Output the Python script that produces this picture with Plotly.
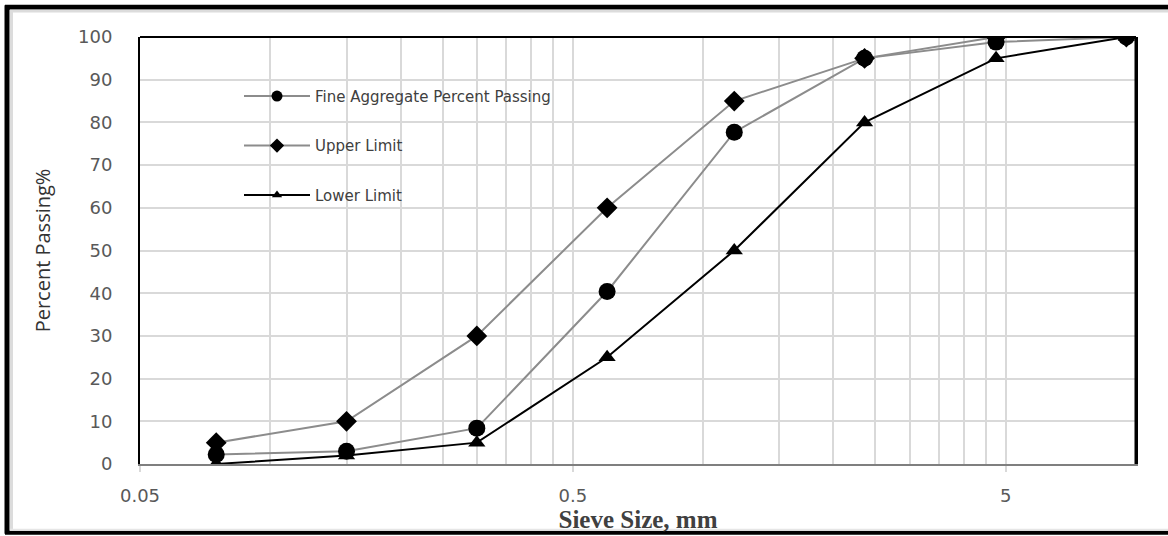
import math
import plotly.graph_objects as go

# ---- data ----
sieve_mm = [0.075, 0.15, 0.3, 0.6, 1.18, 2.36, 4.75, 9.5]
fine_passing = [2.2, 3.0, 8.4, 40.4, 77.7, 95.0, 98.8, 100.0]
upper_limit = [5, 10, 30, 60, 85, 95, 100, 100]
lower_limit = [0, 2, 5, 25, 50, 80, 95, 100]
x_tick_vals = [0.05, 0.5, 5]
x_tick_text = ["0.05", "0.5", "5"]
series_names = ["Fine Aggregate Percent Passing", "Upper Limit", "Lower Limit"]

# minor grid positions (Excel-style log minor grid)
minor_vals = [round(0.05 * k, 3) for k in range(2, 10)] + [round(0.5 * k, 3) for k in range(2, 10)] + [10]

W, H = 1168, 536
L, R, T, B = 140, 1136, 37, 466


def px(x):
    return (x - L) / (R - L)


def py(y):
    return (B - y) / (B - T)


styles = [
    dict(line=dict(color="#8c8c8c", width=2), symbol="circle", size=17, lsize=11),
    dict(line=dict(color="#8c8c8c", width=2), symbol="diamond", size=16, lsize=11),
    dict(line=dict(color="black", width=2), symbol="triangle-up", size=15, lsize=9),
]
series_values = [fine_passing, upper_limit, lower_limit]

fig = go.Figure()
for name, vals, st, grp in zip(series_names, series_values, styles, ["a", "b", "c"]):
    fig.add_trace(go.Scatter(
        x=sieve_mm, y=vals, name=name, mode="lines+markers",
        line=st["line"], marker=dict(symbol=st["symbol"], size=st["size"], color="black"),
        showlegend=False, legendgroup=grp))
for name, st, grp in zip(series_names, styles, ["a", "b", "c"]):
    # legend entry only (smaller legend symbol, like the reference)
    fig.add_trace(go.Scatter(
        x=[None], y=[None], name=name, mode="lines+markers",
        line=st["line"], marker=dict(symbol=st["symbol"], size=st["lsize"], color="black"),
        showlegend=True, legendgroup=grp))

grid = "#d9d9d9"
fig.update_layout(
    width=W, height=H,
    margin=dict(l=L, r=W - R, t=T, b=H - B),
    paper_bgcolor="white", plot_bgcolor="white",
    showlegend=True,
    legend=dict(
        x=px(239), y=py(80), xanchor="left", yanchor="top",
        bgcolor="rgba(0,0,0,0)", borderwidth=0,
        font=dict(family="DejaVu Sans", size=15, color="#404040"),
        tracegroupgap=27, itemwidth=66,
    ),
    xaxis=dict(
        type="log", range=[math.log10(0.05), math.log10(10)],
        tickmode="array", tickvals=x_tick_vals, ticktext=x_tick_text,
        showgrid=True, gridcolor=grid, gridwidth=2,
        ticks="outside", ticklen=6, tickcolor=grid, tickwidth=2,
        minor=dict(tickmode="array", tickvals=minor_vals, showgrid=True,
                   gridcolor=grid, gridwidth=2, ticks=""),
        showline=True, linecolor="#7f7f7f", linewidth=2,
        tickfont=dict(family="DejaVu Sans", size=18, color="#595959"),
        ticklabelstandoff=8,
        title=dict(text="<b>Sieve Size, mm</b>",
                   font=dict(family="Liberation Serif", size=25, color="#404040"),
                   standoff=1),
        zeroline=False,
    ),
    yaxis=dict(
        range=[0, 100], dtick=10, tick0=0,
        showgrid=True, gridcolor=grid, gridwidth=2,
        showline=True, linecolor="black", linewidth=2, mirror=True,
        ticks="", zeroline=False,
        tickfont=dict(family="DejaVu Sans", size=18, color="#595959"),
        ticklabelstandoff=22,
        title=dict(text="Percent Passing%",
                   font=dict(family="Open Sans", size=20, color="#333333"),
                   standoff=22),
    ),
)

# plot frame top (black) and right thicker
fig.add_shape(type="line", xref="paper", yref="paper", x0=0, x1=1, y0=1, y1=1,
              line=dict(color="black", width=2))
fig.add_shape(type="line", xref="paper", yref="paper", x0=1, x1=1, y0=0, y1=1,
              line=dict(color="black", width=3))

# outer picture border (black) with light grey inner line
fig.add_shape(type="line", xref="paper", yref="paper", x0=px(7), x1=px(7), y0=py(5), y1=py(536),
              line=dict(color="black", width=5))
fig.add_shape(type="line", xref="paper", yref="paper", x0=px(5), x1=px(1168), y0=py(7), y1=py(7),
              line=dict(color="black", width=5))
fig.add_shape(type="line", xref="paper", yref="paper", x0=px(5), x1=px(1168), y0=py(535), y1=py(535),
              line=dict(color="black", width=4))
fig.add_shape(type="line", xref="paper", yref="paper", x0=px(11.5), x1=px(11.5), y0=py(10), y1=py(532),
              line=dict(color="#dcdcdc", width=3))
fig.add_shape(type="line", xref="paper", yref="paper", x0=px(10), x1=px(1168), y0=py(11), y1=py(11),
              line=dict(color="#dcdcdc", width=3))
fig.add_shape(type="line", xref="paper", yref="paper", x0=px(10), x1=px(1168), y0=py(532), y1=py(532),
              line=dict(color="#e6e6e6", width=2))

fig.write_html("out.html", config={"displayModeBar": False},
               post_script="document.body.style.margin='0';document.body.style.overflow='hidden';")
